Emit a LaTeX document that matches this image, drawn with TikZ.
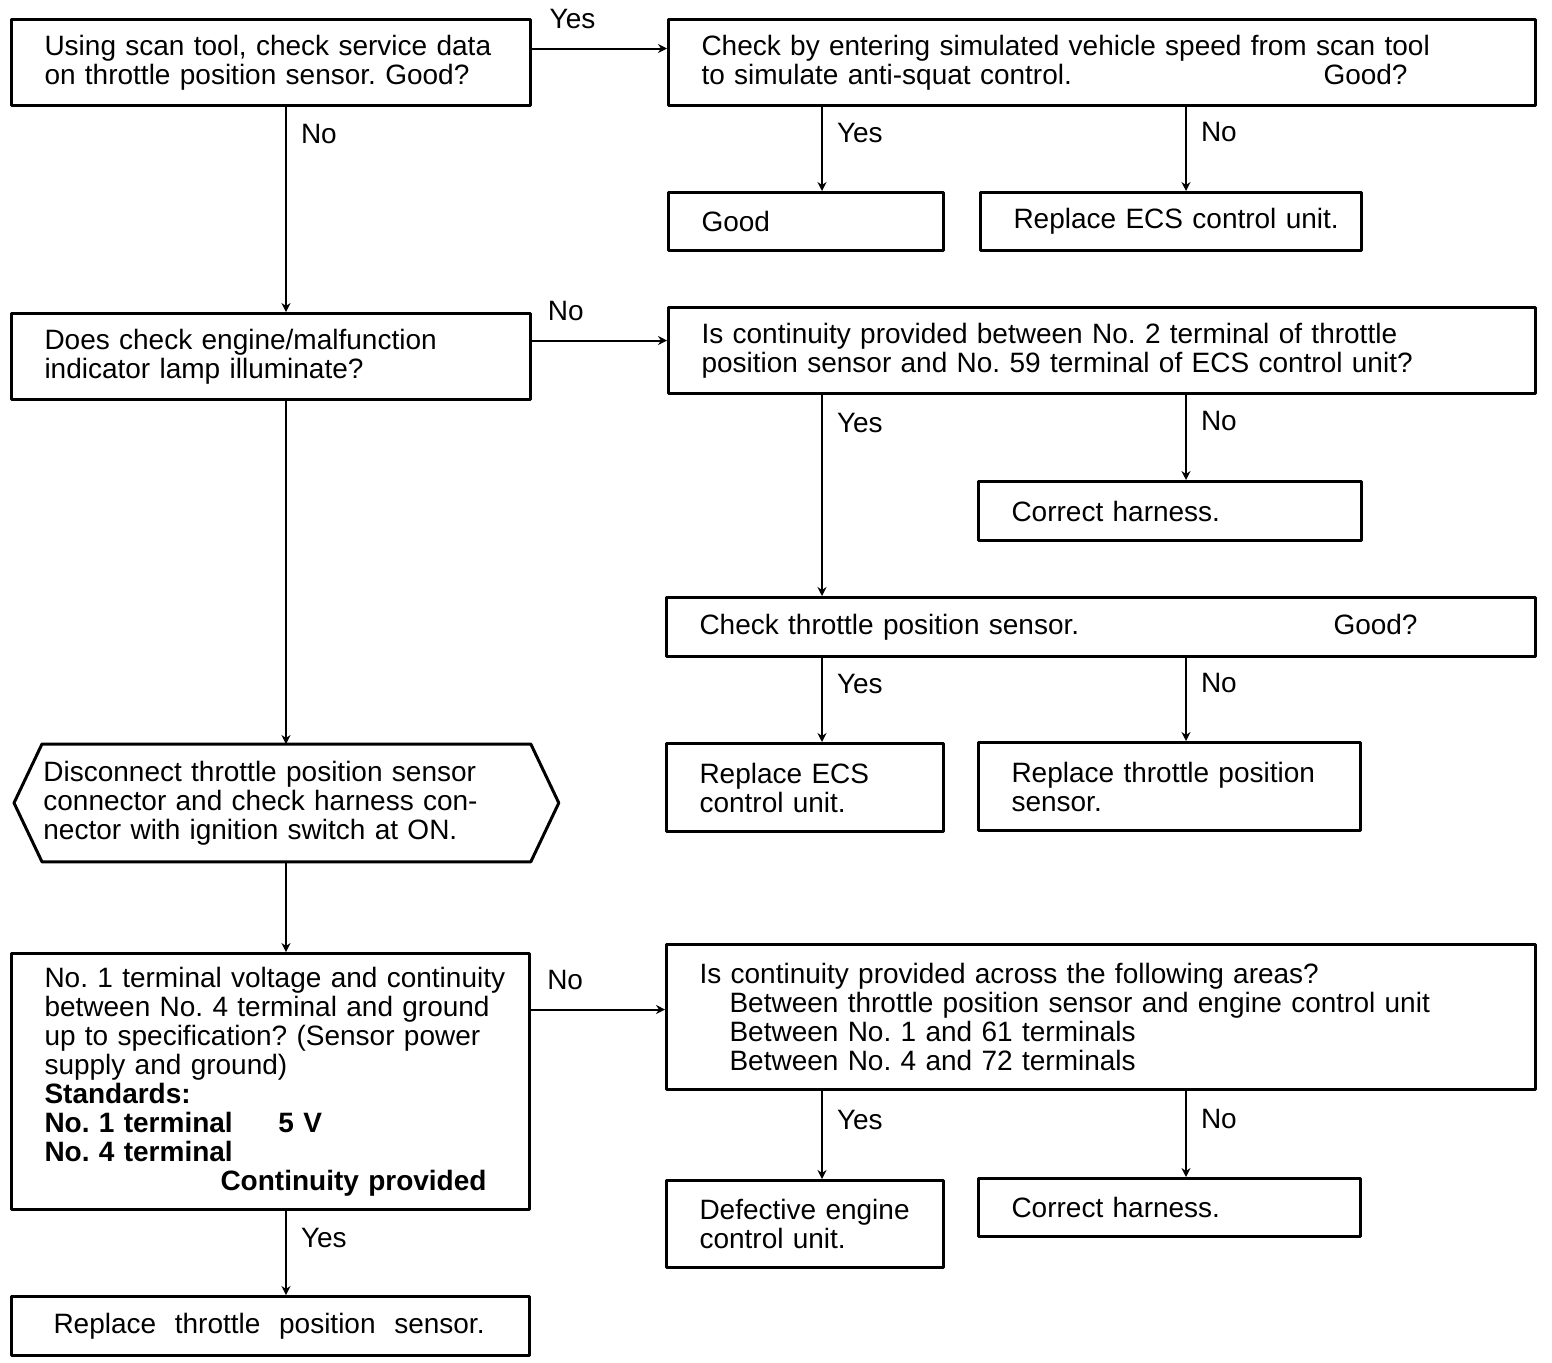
\documentclass[tikz,border=0pt]{standalone}
\usepackage{fontspec}
\setmainfont{Liberation Sans}
\usetikzlibrary{arrows.meta}
\tikzset{
    box/.style 2 args={
        draw, line width=1.5pt, rectangle, anchor=north west,
        inner xsep=0pt, inner ysep=0pt,
        minimum width=#1*0.5pt, minimum height=#2*0.5pt,
        text width=#1*0.5pt, align=left,
        execute at begin node={\leftskip=16.5pt\relax}
    },
    hexbox/.style 2 args={
        rectangle, anchor=north west, inner xsep=0pt, inner ysep=0pt,
        minimum width=#1*0.5pt, minimum height=#2*0.5pt,
        text width=#1*0.5pt, align=left,
        execute at begin node={\leftskip=0.5pt\relax}
    },
    arr/.style={-{Stealth[length=4.5pt,width=4.5pt]}, line width=1pt},
    vlbl/.style={anchor=west, inner sep=0pt, xshift=7pt, yshift=1pt},
    hlbl/.style={anchor=base, inner sep=0pt, yshift=10pt}
}

\begin{document}
\begin{tikzpicture}[x=0.5pt, y=-0.5pt, line join=round,
    font=\fontsize{14}{14.5}\selectfont\frenchspacing]

\useasboundingbox (0,0) rectangle (1552,1362);

% columns of the vertical connectors
\coordinate (colL) at (286,0);
\coordinate (colM) at (822,0);
\coordinate (colR) at (1186,0);

% first check
\node[box={519}{86}] (scan) at (10,18)
  {Using scan tool, check service data\\on throttle position sensor. Good?};
\node[box={867}{86}] (simul) at (667,18)
  {Check by entering simulated vehicle speed from scan tool\\\makebox[311pt][l]{to simulate anti-squat control.}Good?};
\node[box={275}{58}] (good) at (667,191) {Good};
\node[box={381}{58}] (ecsA) at (979,191) {Replace ECS control unit.};

% lamp
\node[box={519}{86}] (lamp) at (10,312)
  {Does check engine/malfunction\\indicator lamp illuminate?};
\node[box={867}{86}] (cont2) at (667,306)
  {Is continuity provided between No. 2 terminal of throttle\\position sensor and No. 59 terminal of ECS control unit?};
\node[box={383}{59}] (harnA) at (977,480) {Correct harness.};
\node[box={869}{59}] (tps) at (665,596)
  {\makebox[317pt][l]{Check throttle position sensor.}Good?};
\node[box={277}{88}] (ecsB) at (665,742) {Replace ECS\\control unit.};
\node[box={382}{88}] (tpsA) at (977,741) {Replace throttle position\\sensor.};

% connector check
\node[hexbox={488}{117}] (disc) at (42,744)
  {Disconnect throttle position sensor\\connector and check harness con-\\nector with ignition switch at ON.};
\draw[line width=1.5pt] (disc.north west) -- (disc.north east) -- ([xshift=14pt]disc.east)
  -- (disc.south east) -- (disc.south west) -- ([xshift=-14pt]disc.west) -- cycle;

\node[box={518}{256}] (volt) at (10,952)
  {No. 1 terminal voltage and continuity\\between No. 4 terminal and ground\\up to specification? (Sensor power\\supply and ground)\\
   \textbf{Standards:}\\\textbf{\makebox[117pt][l]{No. 1 terminal}5 V}\\\textbf{No. 4 terminal}\\
   \hspace*{88pt}\textbf{Continuity provided}};
\node[box={869}{145}] (areas) at (665,943)
  {Is continuity provided across the following areas?\\
   \hspace*{15pt}Between throttle position sensor and engine control unit\\
   \hspace*{15pt}Between No. 1 and 61 terminals\\
   \hspace*{15pt}Between No. 4 and 72 terminals};
\node[box={277}{87}] (ecu) at (665,1179) {Defective engine\\control unit.};
\node[box={382}{58}] (harnB) at (977,1177) {Correct harness.};
\node[box={518}{59}, execute at begin node={\leftskip=21pt\relax}] (tpsB) at (10,1295)
  {Replace~ throttle~ position~ sensor.};

% connectors
\draw[arr] ([yshift=7pt]scan.east) -- node[hlbl, pos=0.3] {Yes} ([yshift=7pt]scan.east -| simul.west);
\draw[arr] (scan.south -| colL) -- node[vlbl, pos=0.14] {No} (lamp.north -| colL);
\draw[arr] (simul.south -| colM) -- node[vlbl, pos=0.33] {Yes} (good.north -| colM);
\draw[arr] (simul.south -| colR) -- node[vlbl, pos=0.32] {No} (ecsA.north -| colR);

\draw[arr] ([yshift=8pt]lamp.east) -- node[hlbl, pos=0.25] {No} ([yshift=8pt]lamp.east -| cont2.west);
\draw[arr] (lamp.south -| colL) -- (disc.north -| colL);
\draw[arr] (cont2.south -| colM) -- node[vlbl, pos=0.147] {Yes} (tps.north -| colM);
\draw[arr] (cont2.south -| colR) -- node[vlbl, pos=0.33] {No} (harnA.north -| colR);
\draw[arr] (tps.south -| colM) -- node[vlbl, pos=0.33] {Yes} (ecsB.north -| colM);
\draw[arr] (tps.south -| colR) -- node[vlbl, pos=0.33] {No} (tpsA.north -| colR);

\draw[arr] (disc.south -| colL) -- (volt.north -| colL);
\draw[arr] ([yshift=36pt]volt.east) -- node[hlbl, pos=0.255] {No} ([yshift=36pt]volt.east -| areas.west);
\draw[arr] (volt.south -| colL) -- node[vlbl, pos=0.345] {Yes} (tpsB.north -| colL);
\draw[arr] (areas.south -| colM) -- node[vlbl, pos=0.35] {Yes} (ecu.north -| colM);
\draw[arr] (areas.south -| colR) -- node[vlbl, pos=0.35] {No} (harnB.north -| colR);

\end{tikzpicture}
\end{document}
